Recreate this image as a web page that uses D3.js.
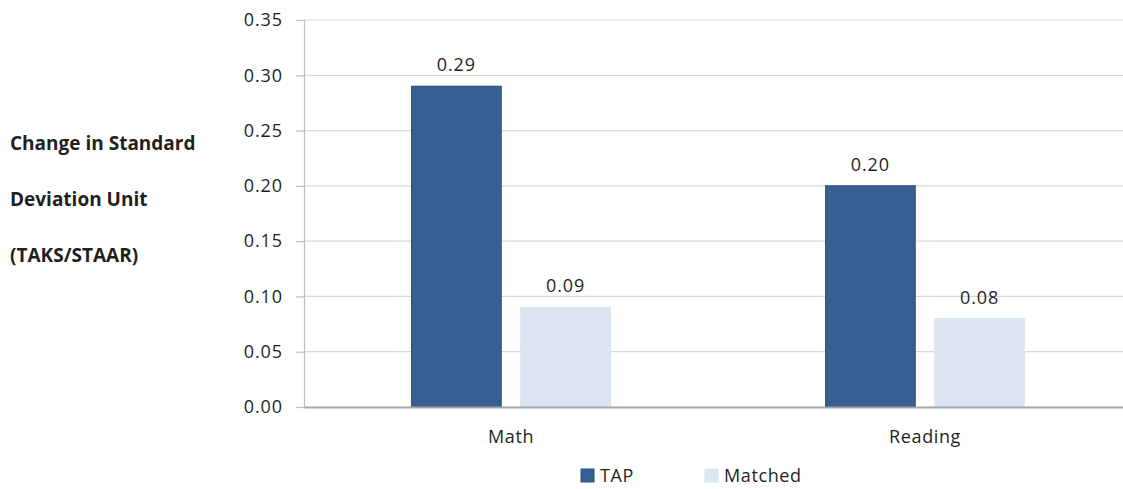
<!DOCTYPE html>
<html>
<head>
<meta charset="utf-8">
<script src="https://cdn.jsdelivr.net/npm/d3@7/dist/d3.min.js"></script>
<style>
  html, body { margin: 0; padding: 0; background: #fff; }
  svg { display: block; }
  text { font-family: "Open Sans", "Liberation Sans", sans-serif; fill: #1f1f1f; }
</style>
</head>
<body>
<svg id="chart" width="1123" height="489"></svg>
<script>
// Subjects on the x axis
const categories = ["Math", "Reading"];
// Series names, in legend order
const seriesNames = ["TAP", "Matched"];
// Change in standard deviation units per subject
const tapValues = [0.29, 0.20];
const matchedValues = [0.09, 0.08];
// Y axis ticks
const yTicks = [0, 0.05, 0.10, 0.15, 0.20, 0.25, 0.30, 0.35];
// Axis title, one entry per line
const yTitleLines = ["Change in Standard", "Deviation Unit", "(TAKS/STAAR)"];

const colors = { "TAP": "#366092", "Matched": "#dce6f2" };
const strokes = { "TAP": "#2b5282", "Matched": "#dce6f2" };

const svg = d3.select("#chart");
const plot = { left: 304, right: 1132, top: 20, bottom: 407 };

const y = d3.scaleLinear().domain([0, 0.35]).range([plot.bottom, plot.top]);
const x0 = d3.scaleBand().domain(categories).range([plot.left, plot.right]).padding(0);
const bw = x0.bandwidth();
const x1 = d3.scaleBand().domain(seriesNames).range([bw * 0.26, bw * 0.74]).paddingInner(0.18);

const rows = categories.map((c, i) => ({
  category: c,
  values: [
    { series: "TAP", value: tapValues[i] },
    { series: "Matched", value: matchedValues[i] }
  ]
}));

// Gridlines
svg.append("g")
  .selectAll("line")
  .data(yTicks.filter(t => t > 0))
  .join("line")
  .attr("x1", plot.left).attr("x2", plot.right)
  .attr("y1", d => y(d)).attr("y2", d => y(d))
  .attr("stroke", "#d9d9d9").attr("stroke-width", 1.2);

// Y axis
const yAxis = svg.append("g")
  .attr("transform", `translate(${plot.left},0)`)
  .call(d3.axisLeft(y).tickValues(yTicks).tickFormat(d3.format(".2f")).tickSize(8).tickPadding(13));
yAxis.select(".domain").attr("stroke", "#bfbfbf").attr("stroke-width", 1.2);
yAxis.selectAll(".tick line").attr("stroke", "#bfbfbf").attr("stroke-width", 1.2);
yAxis.selectAll(".tick text")
  .attr("font-size", "18px")
  .attr("letter-spacing", "0.9px")
  .attr("fill", "#1f1f1f")
  .style("font-family", "'Open Sans', sans-serif");

// Bars
const groups = svg.append("g")
  .selectAll("g")
  .data(rows)
  .join("g")
  .attr("transform", d => `translate(${x0(d.category)},0)`);

groups.selectAll("rect")
  .data(d => d.values)
  .join("rect")
  .attr("x", d => x1(d.series))
  .attr("width", x1.bandwidth())
  .attr("y", d => y(d.value))
  .attr("height", d => y(0) - y(d.value))
  .attr("fill", d => colors[d.series])
  .attr("stroke", d => strokes[d.series])
  .attr("stroke-width", 1.2);

groups.selectAll("text.value")
  .data(d => d.values)
  .join("text")
  .attr("class", "value")
  .attr("x", d => x1(d.series) + x1.bandwidth() / 2)
  .attr("y", d => y(d.value) - 15)
  .attr("text-anchor", "middle")
  .attr("font-size", "18px")
  .attr("letter-spacing", "0.9px")
  .text(d => d3.format(".2f")(d.value));

// X axis baseline
const xAxis = svg.append("g")
  .attr("transform", `translate(0,${plot.bottom})`)
  .call(d3.axisBottom(x0).tickSize(0).tickPadding(23));
xAxis.select(".domain").attr("stroke", "#a6a6a6").attr("stroke-width", 2.2);
xAxis.selectAll(".tick text")
  .attr("font-size", "18px")
  .attr("letter-spacing", "0.6px")
  .attr("fill", "#1f1f1f")
  .style("font-family", "'Open Sans', sans-serif");

// Y axis title
svg.append("g")
  .selectAll("text")
  .data(yTitleLines)
  .join("text")
  .attr("x", 10)
  .attr("y", (d, i) => 150 + i * 56)
  .attr("font-size", "19px")
  .attr("font-weight", "bold")
  .text(d => d);

// Legend
const legendX = [581, 705];
const legend = svg.append("g")
  .selectAll("g")
  .data(seriesNames)
  .join("g")
  .attr("transform", (d, i) => `translate(${legendX[i]},469)`);
legend.append("rect")
  .attr("width", 13).attr("height", 13)
  .attr("fill", d => colors[d])
  .attr("stroke", d => strokes[d]);
legend.append("text")
  .attr("x", 19).attr("y", 13)
  .attr("font-size", "18px")
  .attr("letter-spacing", "0.6px")
  .text(d => d);
</script>
</body>
</html>
